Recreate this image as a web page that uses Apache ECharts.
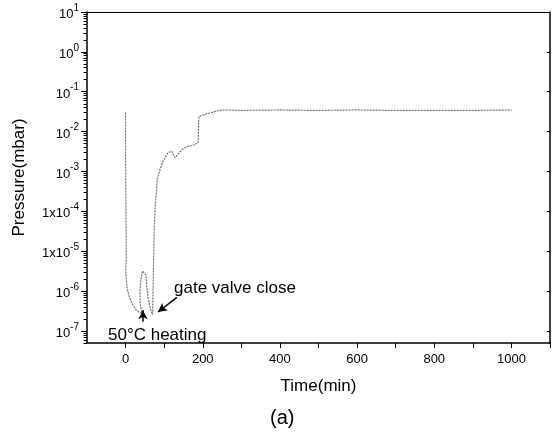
<!DOCTYPE html>
<html>
<head>
<meta charset="utf-8">
<script src="https://cdn.jsdelivr.net/npm/echarts@6/dist/echarts.min.js"></script>
<style>
html,body{margin:0;padding:0;background:#fff;}
#chart{width:554px;height:434px;}
</style>
</head>
<body>
<div id="chart"></div>
<script>
// ---- data ----
const times = [0, 0, 2, 2, 0, 2, 4, 8, 13, 19, 26, 34, 42,
  38, 37, 40, 44, 49, 53, 55, 58, 62, 66, 70,
  71, 72, 74, 77, 80, 82, 89, 97, 110, 120, 128, 146, 159, 180, 188,
  190, 206, 232, 252, 300, 400, 500, 600, 700, 800, 900, 1000];
const pressures = [3e-2, 1.7e-3, 1.7e-3, 6e-6, 3.5e-6, 2e-6, 1.2e-6, 8e-7, 6e-7, 4.5e-7, 3.5e-7, 3e-7, 2.8e-7,
  5e-7, 1e-6, 2e-6, 3.2e-6, 3.5e-6, 2.5e-6, 1.3e-6, 7e-7, 4.5e-7, 3.2e-7, 2.6e-7,
  2.6e-7, 3e-6, 3e-5, 1.5e-4, 3e-4, 6.3e-4, 1.1e-3, 1.8e-3, 3e-3, 3.2e-3, 2.2e-3, 3.5e-3, 4.2e-3, 4.7e-3, 5.3e-3,
  2.4e-2, 2.7e-2, 3.2e-2, 3.5e-2, 3.4e-2, 3.5e-2, 3.4e-2, 3.5e-2, 3.4e-2, 3.4e-2, 3.4e-2, 3.5e-2];

const xTickLabels = [0, 200, 400, 600, 800, 1000];
const xTickMarks = [0, 100, 200, 300, 400, 500, 600, 700, 800, 900, 1000, 1100];
const yTickValues = [1e1, 1e0, 1e-1, 1e-2, 1e-3, 1e-4, 1e-5, 1e-6, 1e-7];
const yTickBases = ['10', '10', '10', '10', '10', '1x10', '1x10', '10', '10'];
const yTickExps = ['1', '0', '-1', '-2', '-3', '-4', '-5', '-6', '-7'];
const yMin = 5e-8, yMax = 10;

// annotation arrows in data coordinates [time, pressure]
const heatingArrow = [[45, 1.7e-7], [45, 3.3e-7]];
const valveArrow = [[133, 7e-7], [84, 3e-7]];

// minor log ticks (2..9 in each decade), as exponents for a helper value axis
const yMinorExp = [];
for (let d = -8; d <= 0; d++) {
  for (let k = 2; k <= 9; k++) {
    const v = k * Math.pow(10, d);
    if (v >= yMin && v <= yMax) yMinorExp.push(Math.log10(v));
  }
}

const FONT = '"Liberation Sans", Arial, sans-serif';
const chart = echarts.init(document.getElementById('chart'), null, {renderer: 'canvas'});

function yLabel(v) {
  for (let i = 0; i < yTickValues.length; i++) {
    if (Math.abs(Math.log10(v) - Math.log10(yTickValues[i])) < 1e-6) {
      return '{b|' + yTickBases[i] + '}{s|' + yTickExps[i] + '}';
    }
  }
  return '';
}

const option = {
  animation: false,
  backgroundColor: '#fff',
  grid: {left: 87, right: 4, top: 12, bottom: 91, containLabel: false},
  xAxis: [{
    type: 'value', min: -100, max: 1100, position: 'bottom',
    name: 'Time(min)', nameLocation: 'middle', nameGap: 35,
    nameTextStyle: {fontFamily: FONT, fontSize: 17, color: '#000'},
    axisLine: {show: true, onZero: false, lineStyle: {color: '#000', width: 1.5}},
    axisTick: {show: true, inside: false, length: 5, customValues: xTickMarks, lineStyle: {color: '#000'}},
    axisLabel: {show: true, customValues: xTickLabels, margin: 10, fontFamily: FONT, fontSize: 13, color: '#000',
      formatter: v => String(v)},
    splitLine: {show: false}
  }, {
    type: 'value', min: -100, max: 1100, position: 'top',
    axisLine: {show: true, onZero: false, lineStyle: {color: '#000', width: 1.2}},
    axisTick: {show: false}, axisLabel: {show: false}, splitLine: {show: false}
  }],
  yAxis: [{
    type: 'log', logBase: 10, min: yMin, max: yMax, position: 'left',
    name: 'Pressure(mbar)', nameLocation: 'middle', nameGap: 59, nameRotate: 90,
    nameTextStyle: {fontFamily: FONT, fontSize: 17, color: '#000'},
    axisLine: {show: true, onZero: false, lineStyle: {color: '#000', width: 1.5}},
    axisTick: {show: true, inside: false, length: 6, customValues: yTickValues, lineStyle: {color: '#000'}},
    axisLabel: {
      show: true, customValues: yTickValues, margin: 8, formatter: yLabel,
      rich: {
        b: {fontFamily: FONT, fontSize: 13, color: '#000', lineHeight: 18, verticalAlign: 'bottom'},
        s: {fontFamily: FONT, fontSize: 10, color: '#000', lineHeight: 11, verticalAlign: 'top'}
      }
    },
    splitLine: {show: false}
  }, {
    type: 'value', min: Math.log10(yMin), max: Math.log10(yMax), position: 'left',
    axisLine: {show: true, onZero: false, lineStyle: {color: 'rgba(0,0,0,0)'}},
    axisTick: {show: true, inside: false, length: 3.5, customValues: yMinorExp, lineStyle: {color: '#000', width: 1}},
    axisLabel: {show: false}, splitLine: {show: false}
  }, {
    type: 'log', logBase: 10, min: yMin, max: yMax, position: 'right',
    axisLine: {show: true, onZero: false, lineStyle: {color: '#000', width: 1.5}},
    axisTick: {show: true, inside: true, length: 3, customValues: yTickValues, lineStyle: {color: '#000'}},
    axisLabel: {show: false}, splitLine: {show: false}
  }],
  series: [{
    type: 'line',
    xAxisIndex: 0, yAxisIndex: 0,
    data: times.map((t, i) => [t, pressures[i]]),
    showSymbol: false,
    symbol: 'none',
    lineStyle: {color: '#707070', width: 1.2, type: [2, 1]},
    markLine: {
      silent: true,
      symbol: ['none', 'arrow'],
      symbolSize: [7, 9],
      label: {show: false},
      lineStyle: {color: '#000', width: 1.5, type: 'solid'},
      data: [
        [{coord: heatingArrow[0]}, {coord: heatingArrow[1]}],
        [{coord: valveArrow[0]}, {coord: valveArrow[1]}]
      ]
    }
  }],
  graphic: [
    {type: 'text', left: 174, top: 280, style: {text: 'gate valve close', fontFamily: FONT, fontSize: 17, fill: '#000'}},
    {type: 'text', left: 108, top: 327, style: {text: '50°C heating', fontFamily: FONT, fontSize: 17, fill: '#000'}},
    {type: 'text', left: 270, top: 408, style: {text: '(a)', fontFamily: FONT, fontSize: 20, fill: '#000'}}
  ]
};
chart.setOption(option);
</script>
</body>
</html>
